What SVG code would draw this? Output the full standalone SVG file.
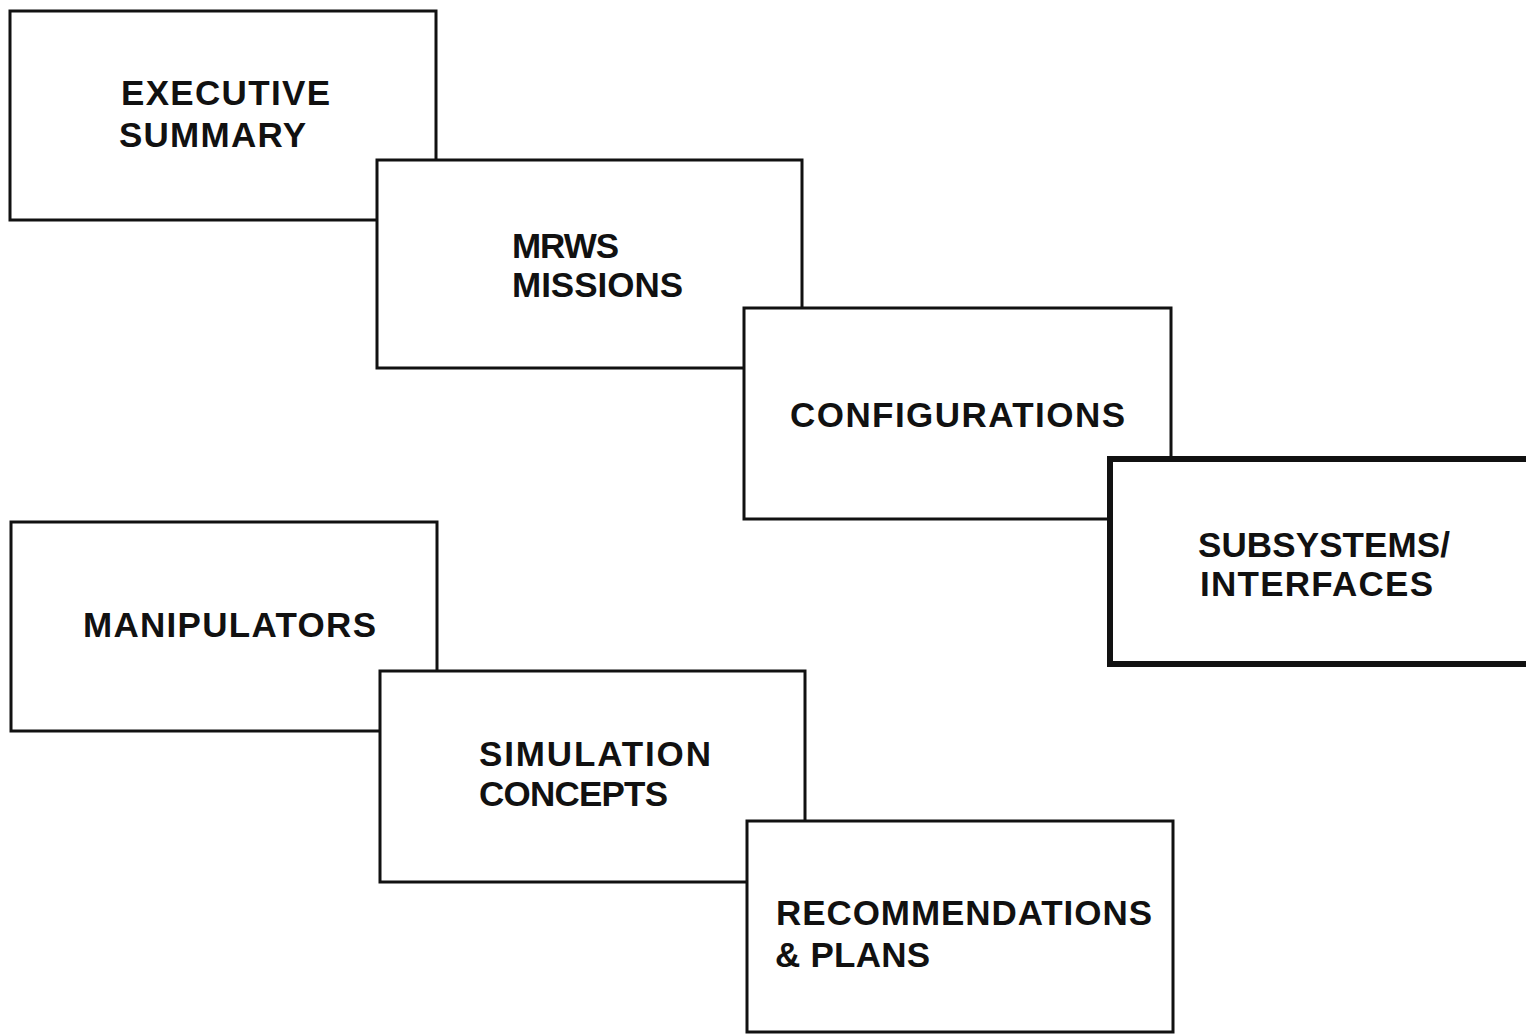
<svg xmlns="http://www.w3.org/2000/svg" width="1526" height="1034" viewBox="0 0 1526 1034">
  <style>
    .box { fill: #ffffff; stroke: #111111; stroke-width: 3; }
    .box.heavy { stroke-width: 6; }
    .label { font-family: "Liberation Sans", Arial, Helvetica, sans-serif; font-weight: bold; font-size: 35px; fill: #111111; }
  </style>
  <rect width="1526" height="1034" fill="#ffffff"/>

  <!-- upper staircase: each box overlaps the one before it -->
  <g id="executive-summary">
    <rect class="box" x="10" y="11" width="426" height="209"/>
    <text class="label" x="121" y="105" textLength="209" lengthAdjust="spacing">EXECUTIVE</text>
    <text class="label" x="119" y="147" textLength="187" lengthAdjust="spacing">SUMMARY</text>
  </g>
  <g id="mrws-missions">
    <rect class="box" x="377" y="160" width="425" height="208"/>
    <text class="label" x="512" y="258" textLength="107" lengthAdjust="spacing">MRWS</text>
    <text class="label" x="512" y="297" textLength="171" lengthAdjust="spacing">MISSIONS</text>
  </g>
  <g id="configurations">
    <rect class="box" x="744" y="308" width="427" height="211"/>
    <text class="label" x="790" y="427" textLength="335" lengthAdjust="spacing">CONFIGURATIONS</text>
  </g>
  <g id="subsystems-interfaces">
    <rect class="box heavy" x="1110" y="459" width="440" height="205"/>
    <text class="label" x="1198" y="557" textLength="252" lengthAdjust="spacing">SUBSYSTEMS/</text>
    <text class="label" x="1200" y="596" textLength="233" lengthAdjust="spacing">INTERFACES</text>
  </g>

  <!-- lower staircase -->
  <g id="manipulators">
    <rect class="box" x="11" y="522" width="426" height="209"/>
    <text class="label" x="83" y="637" textLength="293" lengthAdjust="spacing">MANIPULATORS</text>
  </g>
  <g id="simulation-concepts">
    <rect class="box" x="380" y="671" width="425" height="211"/>
    <text class="label" x="479" y="766" textLength="232" lengthAdjust="spacing">SIMULATION</text>
    <text class="label" x="479" y="806" textLength="189" lengthAdjust="spacing">CONCEPTS</text>
  </g>
  <g id="recommendations-plans">
    <rect class="box" x="747" y="821" width="426" height="211"/>
    <text class="label" x="776" y="925" textLength="376" lengthAdjust="spacing">RECOMMENDATIONS</text>
    <text class="label" x="775" y="967" textLength="155" lengthAdjust="spacing">&amp; PLANS</text>
  </g>

  <!-- no connectors: the boxes touch by overlapping -->
  <g id="connectors"/>
</svg>
